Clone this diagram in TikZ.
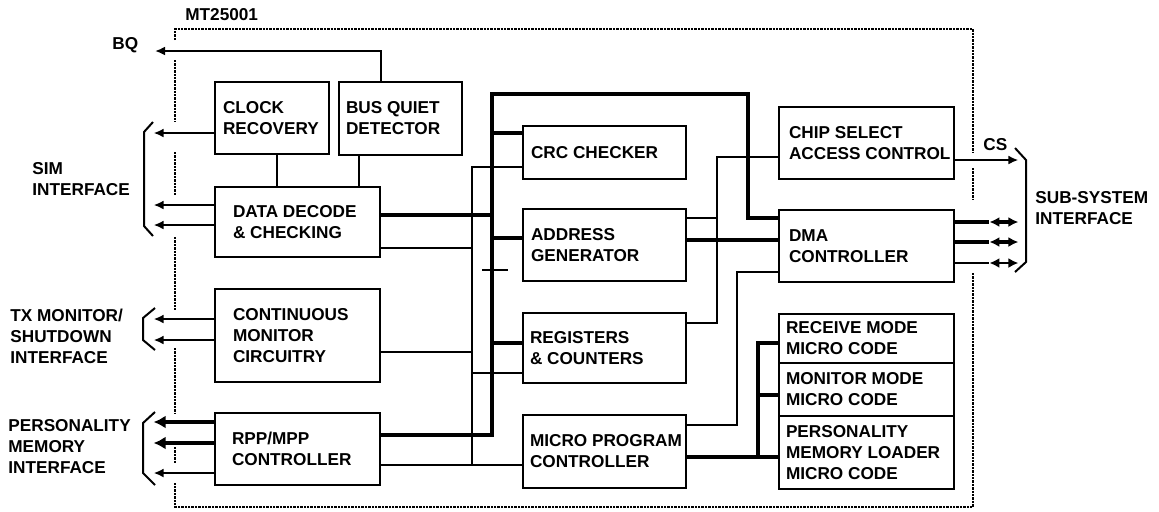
\documentclass[tikz,border=0pt]{standalone}
\usepackage{fontspec}
\setmainfont{Liberation Sans}
\usetikzlibrary{arrows.meta,positioning}

\begin{document}
\begin{tikzpicture}[x=0.5pt,y=-0.5pt,
  font=\fontsize{8.6}{10.5}\selectfont\bfseries,
  blk/.style={draw, line width=1.4pt, inner sep=0pt},
  txt/.style={inner sep=0pt, align=left},
  thn/.style={line width=1pt},
  thk/.style={line width=2.3pt},
  sig/.style={thn, -{Latex[length=5pt,width=4.5pt]}},
  big/.style={thk, -{Latex[length=6pt,width=6.5pt]}},
  brk/.style={line width=1pt},
  bnd/.style={line width=1.3pt, dash pattern=on 1.2pt off 0.5pt}]
  \useasboundingbox (0,0) rectangle (1159,511);

  % --- Chip outline (dotted) ---
  \draw[bnd] (175,40) |- (973,29) -- (973,152);
  \draw[bnd] (973,168) -- (973,200);
  \draw[bnd] (973,273) |- (175,507) -- (175,483);
  \draw[bnd] (175,60) -- (175,122);
  \draw[bnd] (175,152) -- (175,195);
  \draw[bnd] (175,237) -- (175,310);
  \draw[bnd] (175,348) -- (175,413);
  \draw[bnd] (175,447) -- (175,463);
  \node[txt, anchor=west] (mtl) at (185,15) {MT25001};

  % --- Left column ---
  \node[blk, minimum width=57pt, minimum height=36pt] (clk) at (272,118) {};
  \node[txt, right=4.5pt of clk.west] (clkt) {CLOCK\\RECOVERY};
  \node[blk, minimum width=61.5pt, minimum height=36.5pt] (bqd) at (400.5,118.5) {};
  \node[txt, right=4pt of bqd.west] (bqdt) {BUS QUIET\\DETECTOR};
  \node[blk, minimum width=82.5pt, minimum height=35pt] (ddc) at (297.5,222) {};
  \node[txt, right=9.5pt of ddc.west] (ddct) {DATA DECODE\\\& CHECKING};
  \node[blk, minimum width=82.5pt, minimum height=46.5pt] (cmc) at (297.5,335.5) {};
  \node[txt, right=9.5pt of cmc.west] (cmct) {CONTINUOUS\\MONITOR\\CIRCUITRY};
  \node[blk, minimum width=82.5pt, minimum height=36pt] (rpp) at (297.5,449) {};
  \node[txt, right=9pt of rpp.west] (rppt) {RPP/MPP\\CONTROLLER};

  % --- Middle column ---
  \node[blk, minimum width=81.5pt, minimum height=26.5pt] (crc) at (604.5,152.5) {};
  \node[txt, right=4.5pt of crc.west] (crct) {CRC CHECKER};
  \node[blk, minimum width=81.5pt, minimum height=36pt] (adr) at (604.5,245) {};
  \node[txt, right=4.5pt of adr.west] (adrt) {ADDRESS\\GENERATOR};
  \node[blk, minimum width=81.5pt, minimum height=35pt] (reg) at (604.5,348) {};
  \node[txt, right=4pt of reg.west] (regt) {REGISTERS\\\& COUNTERS};
  \node[blk, minimum width=81.5pt, minimum height=36.5pt] (mpc) at (604.5,451.5) {};
  \node[txt, right=4pt of mpc.west] (mpct) {MICRO PROGRAM\\CONTROLLER};

  % --- Right column ---
  \node[blk, minimum width=87.5pt, minimum height=36pt] (csc) at (866.5,143) {};
  \node[txt, right=5.5pt of csc.west] (csct) {CHIP SELECT\\ACCESS CONTROL};
  \node[blk, minimum width=87.5pt, minimum height=36pt] (dma) at (866.5,246) {};
  \node[txt, right=5.5pt of dma.west] (dmat) {DMA\\CONTROLLER};
  \node[blk, minimum width=87.5pt, minimum height=24.5pt] (rmc) at (866.5,338.5) {};
  \node[txt, right=4pt of rmc.west] (rmct) {RECEIVE MODE\\MICRO CODE};
  \node[blk, minimum width=87.5pt, minimum height=26.5pt] (mmc) at (866.5,389.5) {};
  \node[txt, right=4pt of mmc.west] (mmct) {MONITOR MODE\\MICRO CODE};
  \node[blk, minimum width=87.5pt, minimum height=36.5pt] (pml) at (866.5,452.5) {};
  \node[txt, right=4pt of pml.west] (pmlt) {PERSONALITY\\MEMORY LOADER\\MICRO CODE};

  % --- Interface labels ---
  \node[txt, anchor=west] (bql) at (112,45) {BQ};
  \node[txt, anchor=west] (siml) at (32,179) {SIM\\INTERFACE};
  \node[txt, anchor=west] (txl) at (10,336) {TX MONITOR/\\SHUTDOWN\\INTERFACE};
  \node[txt, anchor=west] (pmil) at (8,447) {PERSONALITY\\MEMORY\\INTERFACE};
  \node[txt, anchor=west] (csl) at (983,145) {CS};
  \node[txt, anchor=west] (subl) at (1035,208) {SUB-SYSTEM\\INTERFACE};
  \draw[brk] (153,122) -- (144,132) -- (144,226) -- (153,236);
  \draw[brk] (155,308) -- (143,318) -- (143,340) -- (155,350);
  \draw[brk] (155,412) -- (143,423) -- (143,473) -- (155,485);
  \draw[brk] (1015,148) -- (1026,160) -- (1026,262) -- (1015,272);

  % --- Bus corners ---
  \coordinate (bq) at (155,51);
  \coordinate (busA) at (492,94);
  \coordinate (busB) at (748,94);
  \coordinate (busC) at (492,435);
  \coordinate (lnk) at (472,465);
  \coordinate (csx) at (717,157);
  \coordinate (mpx) at (737,272);
  \coordinate (mcx) at (758,457);

  % Left side signals
  \draw[sig] (bqd.north -| ddc.east) |- (bq);
  \draw[thn] (clk.south -| 277,0) -- (ddc.north -| 277,0);
  \draw[thn] (bqd.south -| 359,0) -- (ddc.north -| 359,0);
  \draw[sig] (clk.west |- 0,133) -- ++(-60,0);
  \draw[sig] (ddc.west |- 0,205) -- ++(-60,0);
  \draw[sig] (ddc.west |- 0,225) -- ++(-60,0);
  \draw[sig] (cmc.west |- 0,319) -- ++(-60,0);
  \draw[sig] (cmc.west |- 0,340) -- ++(-60,0);
  \draw[big] (rpp.west |- 0,422) -- ++(-60,0);
  \draw[big] (rpp.west |- 0,443) -- ++(-60,0);
  \draw[sig] (rpp.west |- 0,473) -- ++(-60,0);

  % Thick data bus
  \draw[thk] (rpp.east |- busC) -- (busC) -- (busA) -- (busB) |- (dma.west |- 0,218);
  \draw[thk] (ddc.east |- 0,215) -- (busA |- 0,215);
  \draw[thk] (crc.west |- 0,133) -- (busA |- 0,133);
  \draw[thk] (adr.west |- 0,238) -- (busA |- 0,238);
  \draw[thk] (reg.west |- 0,343) -- (busA |- 0,343);
  \draw[thn] (busA |- 0,270) ++(-10,0) -- ++(26,0);

  % Thin control bus
  \draw[thn] (crc.west |- 0,167) -| (lnk);
  \draw[thn] (rpp.east |- lnk) -- (mpc.west |- lnk);
  \draw[thn] (ddc.east |- 0,248) -- (lnk |- 0,248);
  \draw[thn] (cmc.east |- 0,352) -- (lnk |- 0,352);
  \draw[thn] (reg.west |- 0,373) -- (lnk |- 0,373);

  % Right side
  \draw[thn] (reg.east |- 0,323) -| (csx) -- (csc.west |- csx);
  \draw[thn] (adr.east |- 0,218) -- (csx |- 0,218);
  \draw[thk] (adr.east |- 0,240) -- (dma.west |- 0,240);
  \draw[thn] (mpc.east |- 0,425) -| (mpx) -- (dma.west |- mpx);
  \draw[thk] (mpc.east |- mcx) -- (pml.west |- mcx);
  \draw[thk] (rmc.west |- 0,343) -| (mcx);
  \draw[thk] (mmc.west |- 0,395) -- (mcx |- 0,395);

  % Sub-system outputs
  \draw[sig] (csc.east |- 0,160) -- ++(63,0);
  \foreach \y/\w in {222/thk,242/thk,263/thn} {
    \draw[\w] (dma.east |- 0,\y) -- ++(34,0) coordinate (dq);
    \draw[\w, {Latex[length=5pt,width=5pt]}-{Latex[length=5pt,width=5pt]}] (dq) -- ++(29,0);
  }
\end{tikzpicture}
\end{document}
